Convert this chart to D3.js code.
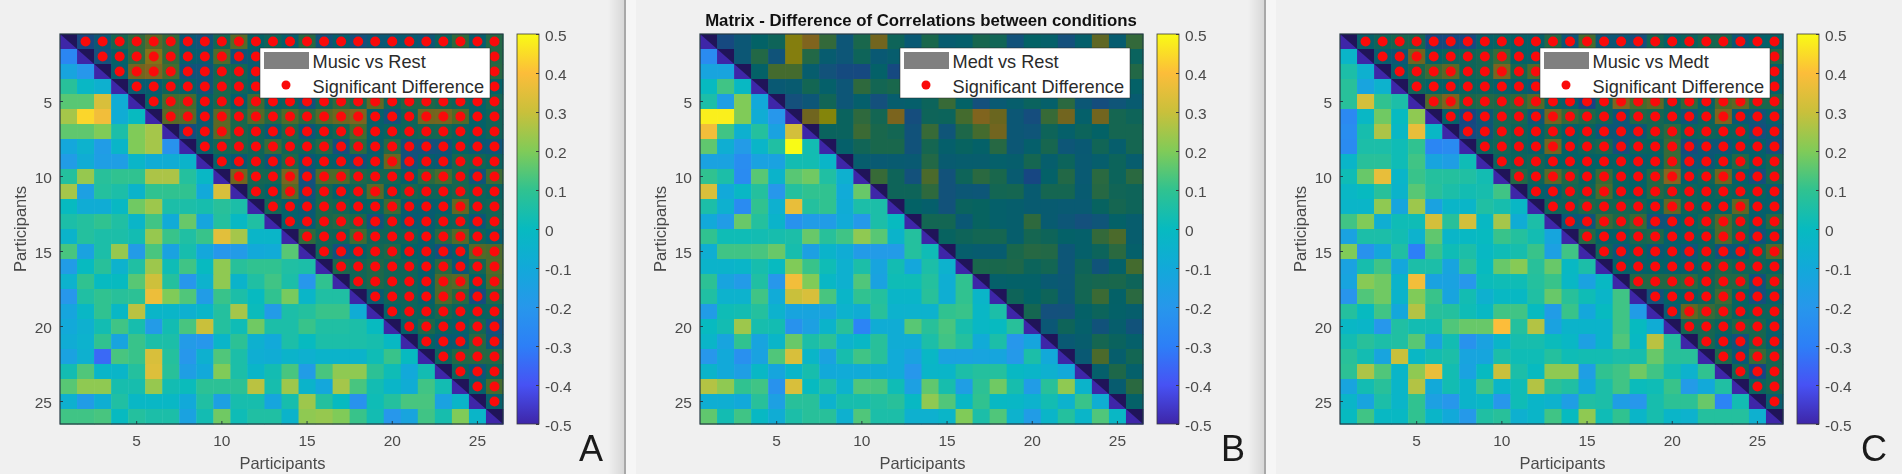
<!DOCTYPE html>
<html>
<head>
<meta charset="utf-8">
<script src="https://cdn.jsdelivr.net/npm/d3@7"></script>
<style>
	html, body { margin: 0; padding: 0; background: #f0f0f0; overflow: hidden; }
	svg { display: block; filter: blur(0.45px); }
	text { font-family: 'Liberation Sans', Arial, sans-serif; }
</style>
</head>
<body>
<div id="chart"></div>
<script>
// lower triangle of each symmetric matrix, row 2 to row 26
const musicRest = [
	[-0.27],
	[-0.13, -0.2],
	[0.08, -0.02, -0.06],
	[0.15, 0.15, 0.33, -0.08],
	[0.25, 0.44, 0.38, -0.08, 0],
	[0.16, 0.16, 0.2, 0.05, 0.2, 0.25],
	[-0.11, -0.05, -0.17, -0.03, 0.2, 0.25, -0.22],
	[-0.17, -0.08, -0.16, -0.16, -0.03, -0.08, -0.08, -0.04],
	[0.07, 0.23, 0.08, 0.1, 0.1, 0.26, 0.26, 0.07, -0.02],
	[0.25, -0.15, 0.07, 0.05, -0.04, 0.1, 0.1, 0.1, -0.1, 0.33],
	[0, -0.08, -0.08, -0.01, 0.18, 0.24, 0.05, 0.05, 0.04, 0.08, 0.05],
	[0.05, 0.07, 0.1, 0.06, -0.03, 0.12, -0.09, 0.17, -0.12, 0.07, -0.01, 0.06],
	[-0.04, 0.07, 0.05, 0.05, 0.03, 0.23, 0.11, 0.06, 0.11, 0.35, 0.25, -0.03, -0.03],
	[0.13, -0.14, 0.05, 0.23, -0.18, 0.13, -0.14, 0.04, -0.11, -0.2, -0.18, -0.1, -0.09, 0.15],
	[-0.17, 0, 0.08, -0.05, 0.06, 0.24, 0.02, 0.12, 0, 0.22, 0.08, 0.1, 0.1, 0.06, 0.05],
	[-0.05, 0.1, 0, 0, 0.15, 0.31, 0.07, -0.2, -0.05, 0.22, -0.04, 0.06, 0.12, 0.05, -0.2, 0.1],
	[-0.2, 0.06, 0.1, 0.08, 0.09, 0.37, 0.2, 0.14, -0.17, 0.11, 0.05, 0, 0.1, 0.19, -0.03, 0.06, 0.06],
	[-0.12, -0.02, 0.1, -0.02, 0.28, -0.03, -0.03, -0.06, -0.03, 0.07, 0.25, 0.01, -0.18, 0.05, 0.07, 0.11, 0.11, -0.08],
	[-0.1, -0.06, 0.03, 0.12, 0.04, -0.18, 0.03, 0.13, 0.3, 0.07, 0.02, 0.18, 0.05, 0.05, 0.11, 0.06, 0.06, 0.05, 0],
	[-0.08, -0.05, 0.1, -0.13, 0.11, 0.05, 0.05, -0.18, -0.2, -0.03, 0.09, -0.06, -0.1, 0.05, 0, 0.05, 0.05, 0.05, 0.04, -0.01],
	[-0.14, -0.06, -0.35, 0.13, 0.11, 0.33, 0.07, -0.2, -0.06, 0.14, 0.05, -0.07, -0.08, -0.04, -0.06, -0.04, -0.04, -0.04, 0.02, 0.11, 0],
	[0.03, 0.14, -0.03, -0.03, 0.07, 0.34, 0.08, -0.16, -0.1, 0.2, 0.05, -0.03, 0.03, 0.13, -0.17, 0.13, 0.22, 0.22, 0.09, 0.02, -0.1, 0.03],
	[0.15, 0.22, 0.22, 0.04, 0.04, 0.23, 0.03, 0.01, 0.09, 0.09, 0.09, 0.28, 0.04, 0.24, -0.04, -0.11, 0.25, 0.13, 0.03, -0.03, -0.08, 0.12, 0.03],
	[-0.06, -0.17, -0.07, 0.06, -0.02, -0.02, -0.02, -0.1, 0.06, -0.15, 0.04, 0.04, -0.12, 0.04, 0.24, 0.07, 0, -0.22, 0.02, 0.07, 0.13, 0.13, -0.14, -0.03],
	[0.12, 0.12, 0.13, 0, 0.07, 0.05, 0.05, -0.14, 0.03, 0.18, 0.02, 0.06, 0.06, -0.04, 0.22, 0.23, 0.2, 0.11, 0.03, -0.2, -0.13, 0.12, 0.04, 0.2, -0.03]
]

const medtRest = [
	[-0.25],
	[-0.13, -0.13],
	[0, 0.12, -0.01],
	[0.05, -0.16, 0.2, -0.1],
	[0.48, 0.48, 0.2, -0.08, -0.2],
	[0.38, 0.12, -0.06, 0.07, -0.14, 0.32],
	[0.16, -0.07, -0.18, -0.03, 0.06, 0.5, 0.03],
	[-0.14, -0.14, -0.24, -0.14, -0.14, 0.03, 0.03, -0.03],
	[0.1, 0.05, -0.25, 0.15, -0.04, 0.15, 0.18, 0.06, -0.06],
	[0.33, -0.1, -0.02, 0.07, -0.2, 0.07, 0.1, 0.1, -0.09, 0.17],
	[0.05, -0.06, -0.25, 0.1, -0.06, 0.36, 0.07, 0.1, -0.08, 0.05, 0.05],
	[-0.1, -0.17, 0.17, 0.07, -0.04, -0.22, -0.17, -0.17, -0.09, -0.19, 0.05, 0],
	[0.1, 0.02, 0.02, 0.03, 0.04, 0.05, 0.17, 0.08, 0.12, 0.22, 0.15, -0.04, 0.07],
	[-0.07, 0.12, 0.12, 0.13, 0.17, 0.04, -0.15, -0.04, -0.08, -0.18, -0.18, -0.18, 0.07, 0.02],
	[-0.04, -0.04, -0.03, 0.04, 0, 0.2, 0.11, 0.02, -0.06, 0.05, -0.13, 0.03, -0.11, 0.05, -0.05],
	[0.09, -0.13, -0.18, 0.06, -0.2, 0.38, 0.2, -0.02, -0.06, 0.14, -0.14, 0.02, 0.02, 0.07, -0.07, 0.1],
	[0.06, -0.05, -0.05, 0.12, -0.09, 0.3, 0.33, 0.13, -0.03, 0.1, 0.07, -0.03, -0.03, 0.08, -0.07, 0.1, -0.03],
	[-0.17, 0.02, 0.03, 0.07, -0.05, -0.13, -0.13, -0.13, -0.05, -0.08, 0.08, -0.05, -0.05, -0.05, 0.1, 0.11, -0.02, 0.05],
	[0, 0.03, 0.24, 0.04, 0.03, -0.22, -0.15, -0.04, 0.08, -0.28, -0.08, -0.08, 0.15, 0.08, 0.13, 0.04, -0.02, 0, 0.08],
	[-0.03, -0.13, 0.1, -0.13, -0.03, 0.17, 0.05, 0.09, -0.05, -0.02, 0.08, -0.08, -0.08, 0.05, 0.12, 0.07, -0.09, 0.05, -0.2, -0.12],
	[-0.2, -0.1, -0.23, -0.14, 0.14, 0.33, -0.03, -0.14, 0.04, 0.12, 0.08, -0.09, -0.14, -0.02, -0.14, -0.14, -0.13, -0.12, -0.19, 0.05, -0.1],
	[-0.04, -0.1, -0.16, -0.02, -0.12, -0.03, 0.04, -0.1, -0.09, -0.09, -0.08, -0.09, -0.2, -0.03, -0.03, 0.05, 0.07, 0.07, -0.01, -0.03, -0.06, -0.1],
	[0.27, 0.22, 0.1, 0.12, -0.22, 0.33, 0, 0.06, -0.05, 0.14, 0.13, 0.02, -0.15, 0.16, 0.04, -0.16, 0.09, 0.18, 0.04, -0.17, 0.08, 0.22, -0.04],
	[-0.07, -0.07, -0.1, 0.08, -0.15, 0.08, 0.08, -0.05, 0.04, 0.04, 0.06, 0.08, -0.01, 0.22, 0.14, -0.02, 0.1, -0.01, -0.02, -0.05, 0.03, -0.05, 0.11, -0.07],
	[0.16, 0.03, 0.12, -0.01, -0.08, 0.05, 0.08, 0.08, -0.06, 0.14, 0.05, 0.05, -0.06, -0.06, -0.03, 0.2, 0.05, 0.14, -0.05, -0.17, -0.03, 0.07, -0.03, 0.14, -0.02]
]

const musicMedt = [
	[-0.03],
	[0.05, -0.06],
	[0.08, -0.13, -0.05],
	[0.08, 0.32, 0.1, 0.05],
	[-0.26, -0.02, 0.18, 0, 0.22],
	[-0.24, 0.04, 0.26, -0.02, 0.36, -0.02],
	[-0.25, 0.05, 0.05, 0.02, 0.1, -0.27, -0.25],
	[-0.03, 0.08, 0.08, 0.02, 0.12, -0.13, -0.16, 0.02],
	[0.02, 0.17, 0.36, -0.03, 0.11, 0.07, 0.07, 0.06, 0.03],
	[-0.02, 0, 0.08, -0.04, 0.15, 0.08, 0.05, 0.03, 0.04, 0.12],
	[-0.03, -0.03, 0.22, -0.12, 0.24, -0.14, -0.03, -0.03, 0.06, 0.04, -0.02],
	[0.12, 0.2, -0.07, 0.02, 0.02, 0.32, 0.08, 0.32, -0.01, 0.25, -0.08, 0.05],
	[-0.14, 0.05, 0.05, 0.03, -0.05, 0.16, -0.03, -0.01, 0, 0.11, 0.07, 0.03, -0.12],
	[0.2, -0.22, -0.11, 0.06, -0.3, 0.11, 0.02, 0.05, -0.01, 0.02, 0.04, 0.11, -0.15, 0.12],
	[-0.14, 0.04, 0.12, -0.11, 0.05, 0.05, -0.13, 0.09, 0, 0.17, 0.21, 0.08, 0.17, -0.01, 0.05],
	[-0.13, 0.21, 0.18, -0.04, 0.38, -0.14, -0.14, -0.2, 0.01, 0.02, 0.02, 0.07, 0.11, -0.02, -0.14, -0.01],
	[-0.21, 0.14, 0.18, -0.04, 0.2, 0.11, -0.13, 0.03, -0.06, -0.01, -0.01, 0.06, 0.17, 0.08, 0.02, -0.03, 0.12],
	[0.07, 0, 0.12, -0.11, 0.27, 0.08, 0.07, 0.02, -0.01, 0.12, 0.12, 0, -0.17, 0.11, -0.11, 0, 0.12, -0.17],
	[-0.02, -0.03, -0.2, 0.06, 0.03, 0.03, 0.14, 0.17, 0.17, 0.4, 0.07, 0.27, -0.14, -0.04, -0.04, -0.04, 0.12, 0, -0.08],
	[0.03, 0.08, 0.05, 0.06, 0.15, -0.14, 0.03, -0.22, -0.14, -0.03, 0.04, 0.04, 0.01, -0.02, -0.15, -0.04, 0.14, -0.01, 0.28, 0.07],
	[0.08, 0.03, -0.13, 0.3, -0.02, 0.03, 0.05, -0.13, -0.12, 0.05, 0.02, 0.02, 0.07, 0.02, 0.03, 0.03, 0.05, 0.04, 0.17, 0.08, 0.08],
	[0.09, 0.26, 0.14, -0.03, 0.22, 0.36, 0.03, -0.14, 0, 0.3, 0.05, 0, 0.22, 0.22, -0.16, 0.1, 0.12, 0.18, 0.12, 0.03, -0.05, 0.1],
	[-0.13, 0.03, 0.08, -0.03, 0.27, -0.1, 0.03, -0.04, 0.12, -0.03, 0.02, 0.27, 0.09, 0.06, -0.11, 0.05, 0.12, 0.01, 0.02, 0.11, -0.18, -0.1, 0.06],
	[-0.03, -0.13, 0.05, -0.03, 0.1, -0.15, -0.2, -0.04, -0.02, -0.2, 0.02, -0.03, -0.05, -0.16, 0.06, 0.05, -0.16, -0.2, 0.04, 0.09, 0.09, 0.17, -0.28, 0.03],
	[0, 0.12, -0.01, -0.01, 0.1, -0.03, -0.1, -0.19, 0.06, 0.08, -0.06, -0.03, 0.12, 0, 0.22, 0.02, 0.1, -0.03, 0.04, -0.03, -0.05, 0.07, 0.07, 0.07, -0.06]
]

const participants = d3.range(1, 27)
const axisTicks = [5, 10, 15, 20, 25]
const colorTicks = [-0.5, -0.4, -0.3, -0.2, -0.1, 0, 0.1, 0.2, 0.3, 0.4, 0.5]
const diagonal = -0.5
const parula = ['#3e26a8', '#4752f4', '#2d7ff7', '#2797eb', '#12a9d9', '#07bac0', '#30c290', '#80cb58', '#c9c03b', '#fcbd3a', '#f9fb15']

const panels = [
	{ left: 60, name: 'Music vs Rest', rows: musicRest, significant: true, letter: 'A', letterX: 591 },
	{ left: 700, name: 'Medt vs Rest', rows: medtRest, significant: false, letter: 'B', letterX: 1233 },
	{ left: 1340, name: 'Music vs Medt', rows: musicMedt, significant: true, letter: 'C', letterX: 1874 }
]
const dividers = [624, 1264]
const title = 'Matrix - Difference of Correlations between conditions'

const width = 1902
const height = 474
const margin = { top: 34, bottom: 50 }
const plotWidth = 443
const plotHeight = height - margin.top - margin.bottom
const inkColor = '#4a4a4a'

const x = d3.scaleBand().domain(participants).range([0, plotWidth])
const y = d3.scaleBand().domain(participants).range([0, plotHeight])

const colorDomain = parula.map((d, i) => -0.5 + i / (parula.length - 1))
const color = d3.scaleLinear().domain(colorDomain).range(parula).clamp(true)
const colorY = d3.scaleLinear().domain([-0.5, 0.5]).range([plotHeight, 0])

const svg = d3
	.select('#chart')
	.append('svg')
	.attr('width', width)
	.attr('height', height)

const defs = svg.append('defs')

const gradient = defs
	.append('linearGradient')
	.attr('id', 'parula')
	.attr('x1', 0)
	.attr('x2', 0)
	.attr('y1', 1)
	.attr('y2', 0)

gradient
	.selectAll('stop')
	.data(parula)
	.join('stop')
	.attr('offset', (d, i) => i / (parula.length - 1))
	.attr('stop-color', d => d)

// window edges between the three screenshots
const shade = defs
	.append('linearGradient')
	.attr('id', 'shade')

shade.append('stop').attr('offset', 0).attr('stop-color', '#f0f0f0')
shade.append('stop').attr('offset', 1).attr('stop-color', '#d8d8d8')

dividers.forEach(d => {
	svg
		.append('rect')
		.attr('x', d - 16)
		.attr('y', 0)
		.attr('width', 16)
		.attr('height', height)
		.attr('fill', 'url(#shade)')
	svg
		.append('rect')
		.attr('x', d)
		.attr('y', 0)
		.attr('width', 2)
		.attr('height', height)
		.attr('fill', '#a8a8a8')
	svg
		.append('rect')
		.attr('x', d + 2)
		.attr('y', 0)
		.attr('width', 10)
		.attr('height', height)
		.attr('fill', '#f6f6f6')
})

// mirrors the lower triangle, the matrices are symmetric
function cells(rows) {
	const out = []
	participants.forEach(r => {
		participants.forEach(c => {
			let value = diagonal
			if (r > c) value = rows[r - 2][c - 1]
			if (r < c) value = rows[c - 2][r - 1]
			out.push({ r, c, value })
		})
	})
	return out
}

function drawPanel(panel) {
	const g = svg
		.append('g')
		.attr('transform', `translate(${panel.left},${margin.top})`)

	const matrix = cells(panel.rows)

	g.selectAll('rect.cell')
		.data(matrix)
		.join('rect')
		.classed('cell', true)
		.attr('x', d => x(d.c))
		.attr('y', d => y(d.r))
		.attr('width', x.bandwidth() + 0.5)
		.attr('height', y.bandwidth() + 0.5)
		.attr('fill', d => color(d.value))

	// upper triangle is covered by a half transparent patch
	g.append('path')
		.attr('d', `M0,0L${plotWidth},0L${plotWidth},${plotHeight}Z`)
		.attr('fill', '#000')
		.attr('fill-opacity', 0.47)

	if (panel.significant) {
		g.selectAll('circle.sig')
			.data(matrix.filter(d => d.c > d.r))
			.join('circle')
			.classed('sig', true)
			.attr('cx', d => x(d.c) + x.bandwidth() / 2)
			.attr('cy', d => y(d.r) + y.bandwidth() / 2)
			.attr('r', 5)
			.attr('fill', '#fa0a0a')
	}

	const xAxis = d3
		.axisBottom(x)
		.tickValues(axisTicks)
		.tickSize(-3)
		.tickPadding(11)

	const yAxis = d3
		.axisLeft(y)
		.tickValues(axisTicks)
		.tickSize(-3)
		.tickPadding(8)

	const styleAxis = a => {
		a.select('.domain').remove()
		a.selectAll('line').attr('stroke', '#263a44')
		a.selectAll('text')
			.attr('fill', inkColor)
			.style('font-size', '15.5px')
	}

	g.append('g')
		.attr('transform', `translate(0,${plotHeight})`)
		.call(xAxis)
		.call(styleAxis)

	g.append('g')
		.call(yAxis)
		.call(styleAxis)
		.call(a => a.selectAll('text').attr('dy', '0.42em'))

	g.append('rect')
		.attr('width', plotWidth)
		.attr('height', plotHeight)
		.attr('fill', 'none')
		.attr('stroke', '#263a44')
		.attr('stroke-width', 1.2)

	g.append('text')
		.attr('x', plotWidth / 2 + 1)
		.attr('y', 435)
		.attr('text-anchor', 'middle')
		.attr('fill', inkColor)
		.style('font-size', '16.5px')
		.text('Participants')

	g.append('text')
		.attr('transform', `translate(-34,${plotHeight / 2}) rotate(-90)`)
		.attr('text-anchor', 'middle')
		.attr('fill', inkColor)
		.style('font-size', '16.5px')
		.text('Participants')

	drawLegend(g, panel)
	drawColorbar(g)

	svg.append('text')
		.attr('x', panel.letterX)
		.attr('y', 461)
		.attr('text-anchor', 'middle')
		.attr('fill', '#1a1a1a')
		.style('font-size', '36px')
		.text(panel.letter)
}

function drawLegend(g, panel) {
	const legend = g.append('g').attr('transform', 'translate(200,14)')

	legend
		.append('rect')
		.attr('width', 230)
		.attr('height', 50)
		.attr('fill', '#fff')
		.attr('stroke', '#262626')
		.attr('stroke-width', 0.5)

	legend
		.append('rect')
		.attr('x', 4)
		.attr('y', 4)
		.attr('width', 45)
		.attr('height', 17)
		.attr('fill', '#808080')

	legend
		.append('circle')
		.attr('cx', 26)
		.attr('cy', 37)
		.attr('r', 4.5)
		.attr('fill', '#fa0a0a')

	legend
		.selectAll('text')
		.data([panel.name, 'Significant Difference'])
		.join('text')
		.attr('x', 52.5)
		.attr('y', (d, i) => 20 + i * 25)
		.attr('fill', '#2a2a2a')
		.style('font-size', '18.2px')
		.text(d => d)
}

function drawColorbar(g) {
	const bar = g.append('g').attr('transform', `translate(${plotWidth + 14},0)`)

	bar
		.append('rect')
		.attr('width', 22)
		.attr('height', plotHeight)
		.attr('fill', 'url(#parula)')
		.attr('stroke', '#3a3a3a')
		.attr('stroke-width', 0.8)

	bar
		.append('g')
		.attr('transform', 'translate(22,0)')
		.call(
			d3
				.axisRight(colorY)
				.tickValues(colorTicks)
				.tickFormat(d => `${d}`)
				.tickSize(-3)
				.tickPadding(6)
		)
		.call(a => a.select('.domain').remove())
		.call(a => a.selectAll('line').attr('stroke', '#3a3a3a'))
		.call(a =>
			a
				.selectAll('text')
				.attr('fill', inkColor)
				.attr('dy', '0.42em')
				.style('font-size', '15.5px')
		)
}

panels.forEach(drawPanel)

svg.append('text')
	.attr('x', 921)
	.attr('y', 26)
	.attr('text-anchor', 'middle')
	.attr('fill', '#111')
	.style('font-size', '16.8px')
	.style('font-weight', 'bold')
	.text(title)
</script>
</body>
</html>
